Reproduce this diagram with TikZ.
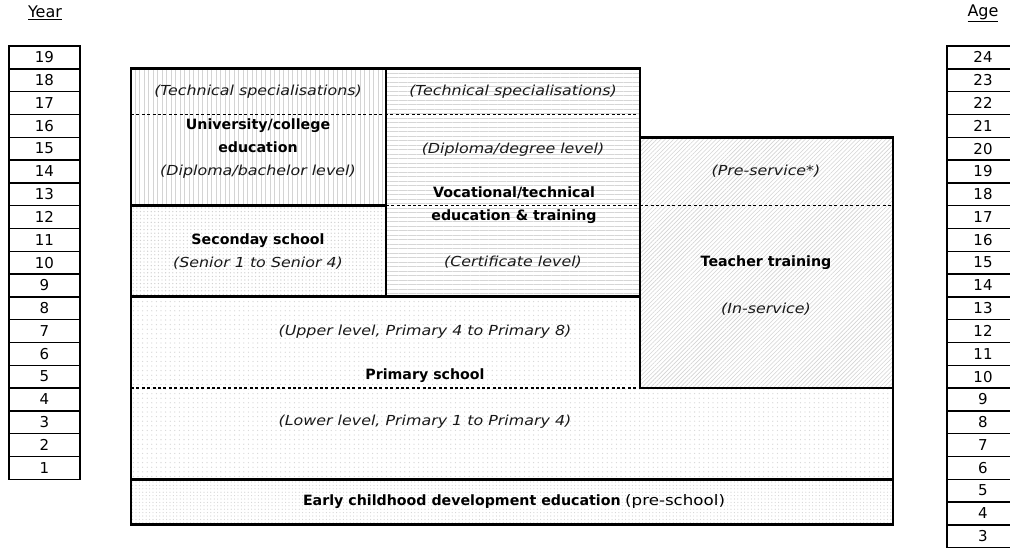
\documentclass[tikz,border=0pt]{standalone}
\usepackage{fontspec}
\setmainfont{DejaVu Sans}
\newfontfamily\wf{DejaVu Sans}[FakeStretch=1.15]
\usetikzlibrary{patterns.meta}
\begin{document}
\begin{tikzpicture}[x=1pt,y=-1pt,
  border/.style={line width=2.8pt, line join=miter},
  dashsep/.style={line width=1.2pt, dash pattern=on 3pt off 2.4pt},
  txt/.style={inner sep=0pt, text height=10.5pt, text depth=3pt},
  numbox/.style={draw, line width=1.4pt, minimum width=71pt, minimum height=22.8pt, inner sep=0pt, font=\fontsize{15}{17}\selectfont},
  itl/.style={txt, font=\wf\itshape\fontsize{13.8}{16}\selectfont, text=black!90},
  bld/.style={txt, font=\bfseries\fontsize{14.2}{16}\selectfont},
  hdr/.style={inner sep=0pt, font=\fontsize{16}{18}\selectfont},
  vlines/.style={pattern={Lines[angle=90,distance=4.5pt,line width=0.8pt]}, pattern color=black!17},
  hlines/.style={pattern={Lines[angle=0,distance=4.5pt,line width=0.8pt]}, pattern color=black!16},
  dlines/.style={pattern={Lines[angle=45,distance=3pt,line width=0.6pt]}, pattern color=black!17},
  densedots/.style={pattern={Dots[radius=0.7pt,distance=3.6pt]}, pattern color=black!18},
  sparsedots/.style={pattern={Dots[radius=0.65pt,distance=4.6pt]}, pattern color=black!16},
  finedots/.style={pattern={Dots[radius=0.6pt,distance=3.4pt]}, pattern color=black!17}
]
\useasboundingbox (0,0) rectangle (1010,550);
\clip (0,0) rectangle (1010,550);
\fill[white] (0,0) rectangle (1010,550);

% headers
\node[hdr] (yearhdr) at (45,13) {\underline{Year}};
\node[hdr] (agehdr) at (983,13) {\underline{Age}};

% year column
\foreach \n in {1,...,19}{
  \node[numbox] (yr\n) at (44.5,{46+(19-\n+0.5)*22.8}) {\n};
}
% age column
\foreach \n in {3,...,24}{
  \node[numbox, minimum width=72pt] (ag\n) at (983,{46+(24-\n+0.5)*22.8}) {\n};
}

% fills
\fill[vlines] (131,68.8) rectangle (386,205.6);
\fill[hlines] (386,68.8) rectangle (640,296.8);
\fill[densedots] (131,205.6) rectangle (386,296.8);
\fill[dlines] (640,137.2) rectangle (893,388);
\fill[sparsedots] (131,296.8) -- (640,296.8) -- (640,388) -- (893,388) -- (893,479.2) -- (131,479.2) -- cycle;
\fill[finedots] (131,479.2) rectangle (893,524.8);

% dashed separators
\coordinate (d1a) at (131,114.4); \coordinate (d1b) at (640,114.4);
\coordinate (d2a) at (386,205.6); \coordinate (d2b) at (893,205.6);
\coordinate (d3a) at (131,388);   \coordinate (d3b) at (640,388);
\draw[dashsep] (d1a) -- (d1b);
\draw[dashsep] (d2a) -- (d2b);
\draw[dashsep] (d3a) -- (d3b);

% borders
\draw[border] (131,68.8) rectangle (386,205.6);
\draw[border] (131,205.6) rectangle (386,296.8);
\draw[border] (386,68.8) rectangle (640,296.8);
\draw[border] (640,137.2) rectangle (893,388);
\draw[border] (131,296.8) -- (640,296.8) -- (640,388) -- (893,388) -- (893,479.2) -- (131,479.2) -- cycle;
\draw[border] (131,479.2) rectangle (893,524.8);

% texts: university
\node[itl] (ts1) at (258,92) {(Technical specialisations)};
\node[bld] (uni1) at (258,126) {University/college};
\node[bld] (uni2) at (258,149) {education};
\node[itl] (uni3) at (258,172) {(Diploma/bachelor level)};
% vocational
\node[itl] (ts2) at (513,92) {(Technical specialisations)};
\node[itl] (voc0) at (513,150) {(Diploma/degree level)};
\node[bld] (voc1) at (514,194) {Vocational/technical};
\node[bld] (voc2) at (514,217) {education \& training};
\node[itl] (voc3) at (513,263) {(Certificate level)};
% secondary
\node[bld] (sec1) at (258,241) {Seconday school};
\node[itl] (sec2) at (258,264) {(Senior 1 to Senior 4)};
% teacher
\node[itl] (tt0) at (766,172) {(Pre-service*)};
\node[bld] (tt1) at (766,263) {Teacher training};
\node[itl] (tt2) at (766,310) {(In-service)};
% primary
\node[itl] (pr1) at (425,332) {(Upper level, Primary 4 to Primary 8)};
\node[bld] (pr2) at (425,376) {Primary school};
\node[itl] (pr3) at (425,422) {(Lower level, Primary 1 to Primary 4)};
% ECD
\node[txt, font=\fontsize{14.2}{16}\selectfont] (ecd) at (514,502) {\textbf{Early childhood development education} {\wf\fontsize{14.5}{16}\selectfont(pre-school)}};
\end{tikzpicture}
\end{document}
